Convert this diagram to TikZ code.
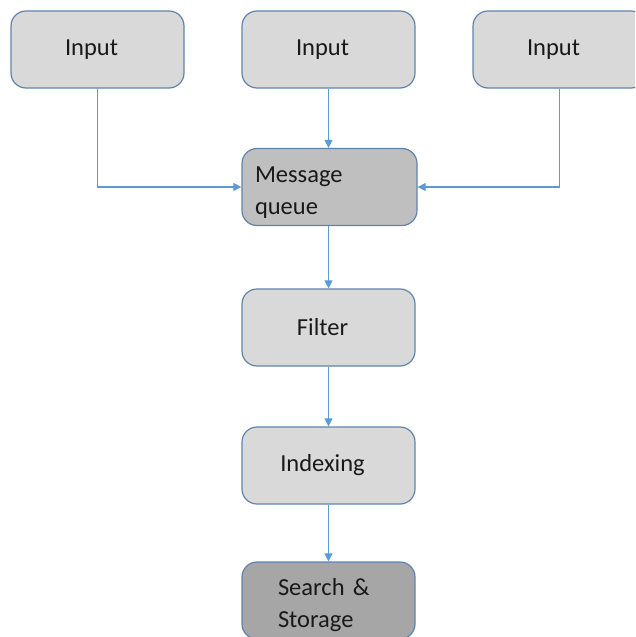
\documentclass[tikz,border=0pt]{standalone}
\usepackage{fontspec}
\setmainfont{Carlito}
\usetikzlibrary{arrows.meta}
\definecolor{boxline}{HTML}{5E84AE}
\definecolor{conn}{HTML}{5B9BD5}
\definecolor{fillA}{HTML}{D9D9D9}
\definecolor{fillB}{HTML}{BFBFBF}
\definecolor{fillC}{HTML}{A6A6A6}
\tikzset{
  box/.style={draw=boxline, line width=1.2pt, rounded corners=15pt, fill=fillA,
    minimum width=173pt, minimum height=77pt, inner sep=0pt,
    font=\fontsize{24.5}{32}\selectfont, text=black!90},
  ctext/.style={execute at end node={\hspace*{12pt}}},
  conn/.style={draw=conn, line width=1.1pt, -{Triangle[length=8pt,width=8pt]}},
}
\begin{document}
\begin{tikzpicture}[x=1pt,y=-1pt]
\useasboundingbox (0,0) rectangle (635,637);
\clip (0,0) rectangle (635,637);
\node[box, ctext] (in1) at (97.5,49.5) {Input};
\node[box, ctext] (in2) at (328.5,49.5) {Input};
\node[box, ctext] (in3) at (559.5,49.5) {Input};
\node[box, fill=fillB, text width=149pt, inner xsep=13pt, minimum width=175pt, align=left] (mq) at (329.5,187) {\rule{0pt}{26pt}Message\\queue};
\node[box, ctext] (flt) at (328.5,327.5) {Filter};
\node[box, ctext] (idx) at (328.5,465.5) {Indexing};
\node[box, fill=fillC, text width=101pt, inner xsep=36pt, align=left] (ss) at (328.5,600.5) {\rule{0pt}{26pt}Search \&\\Storage};
\draw[conn] (in1.south) |- (mq.west);
\draw[conn] (in2.south) -- (in2.south |- mq.north);
\draw[conn] (in3.south) |- (mq.east);
\draw[conn] (mq.south -| flt.north) -- (flt.north);
\draw[conn] (flt.south) -- (idx.north);
\draw[conn] (idx.south) -- (ss.north);
\end{tikzpicture}
\end{document}
